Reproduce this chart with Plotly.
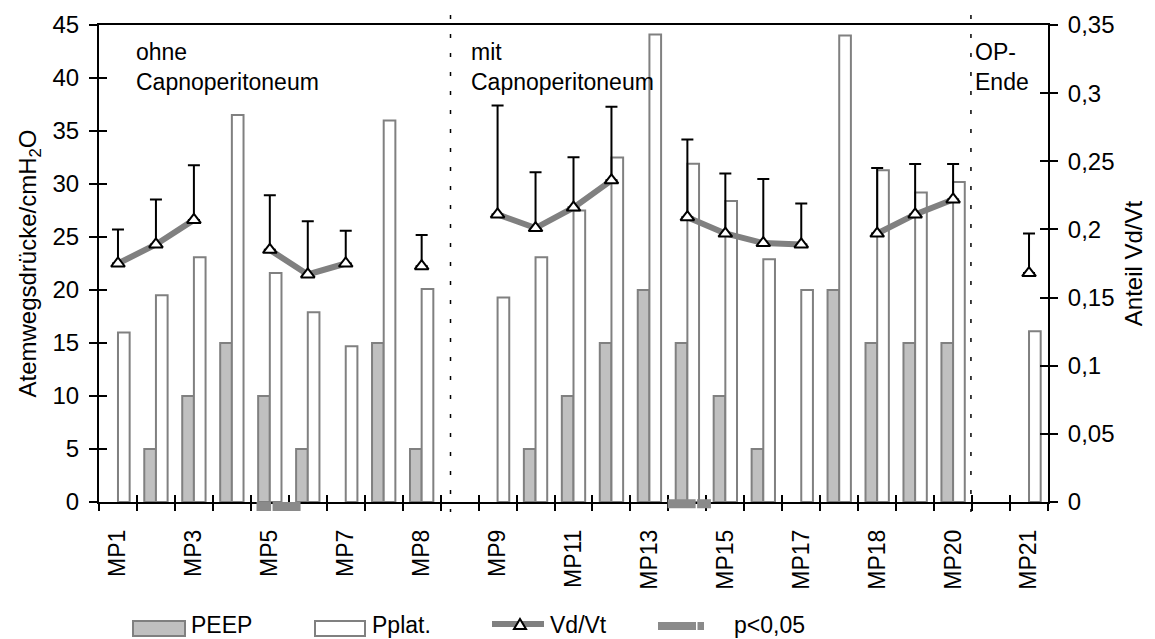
import plotly.graph_objects as go

# ---------------- data ----------------
slots = list(range(25))                      # measurement slots along the x axis
tick_positions = list(range(0, 25, 2))
tick_labels = ["MP1", "MP3", "MP5", "MP7", "MP8", "MP9", "MP11", "MP13",
               "MP15", "MP17", "MP18", "MP20", "MP21"]

peep = [0, 5, 10, 15, 10, 5, 0, 15, 5, None,
        0, 5, 10, 15, 20, 15, 10, 5, 0, 20, 15, 15, 15, None, 0]
pplat = [16.0, 19.5, 23.1, 36.5, 21.6, 17.9, 14.7, 36.0, 20.1, None,
         19.3, 23.1, 27.5, 32.5, 44.1, 31.9, 28.4, 22.9, 20.0, 44.0, 31.3, 29.2, 30.2, None, 16.1]
vdvt = [0.175, 0.189, 0.207, None, 0.185, 0.167, 0.175, None, 0.173, None,
        0.211, 0.201, 0.216, 0.236, None, 0.209, 0.197, 0.190, 0.189, None,
        0.197, 0.211, 0.222, None, 0.168]
vdvt_sd = [0.025, 0.033, 0.040, None, 0.040, 0.039, 0.024, None, 0.023, None,
           0.080, 0.041, 0.037, 0.054, None, 0.057, 0.044, 0.047, 0.030, None,
           0.048, 0.037, 0.026, None, 0.029]

phase_lines = [8.76, 22.47]
phase_labels = ["ohne<br>Capnoperitoneum", "mit<br>Capnoperitoneum", "OP-<br>Ende"]
phase_label_x = [0.42, 9.24, 22.53]
p_sig_ranges = [(4.81, 3.65), (14.48, 15.62)]
p_sig_level = [-0.0095, -0.0035]

FONT = "Liberation Sans, Arial, sans-serif"
W, H = 1155, 639
ML, MR, MT, MB = 99, 107, 25, 137
PW, PH = W - ML - MR, H - MT - MB


def px_x(p):
    return (p - ML) / PW


def px_y(p):
    return (H - MB - p) / PH


def outline(vals):
    # no outline for zero-height bars (avoids a stray stroke on the axis)
    return [2 if (v is not None and v != 0) else 0 for v in vals]


fig = go.Figure()

fig.add_trace(go.Bar(x=slots, y=peep, name="PEEP",
                     marker=dict(color="#c0c0c0",
                                 line=dict(color="#808080", width=outline(peep))),
                     showlegend=False))
fig.add_trace(go.Bar(x=slots, y=pplat, name="Pplat.",
                     marker=dict(color="white",
                                 line=dict(color="#808080", width=outline(pplat))),
                     showlegend=False))
fig.add_trace(go.Scatter(
    x=slots, y=vdvt, yaxis="y2", name="Vd/Vt", mode="lines+markers",
    connectgaps=False,
    line=dict(color="#808080", width=6),
    marker=dict(symbol="triangle-up", size=12, color="white",
                line=dict(color="black", width=2)),
    error_y=dict(type="data", symmetric=False,
                 array=[s if s is not None else 0 for s in vdvt_sd],
                 arrayminus=[0] * len(slots),
                 color="black", thickness=2, width=6),
    showlegend=False))

# invisible helper traces so the tick-only overlay axes are drawn
for xa, ya in [("x2", "y"), ("x3", "y"), ("x", "y3"), ("x", "y4")]:
    fig.add_trace(go.Scatter(x=[0], y=[None], xaxis=xa, yaxis=ya,
                             showlegend=False, hoverinfo="skip"))

xr = [-0.5, 24.5]
boundaries = [i - 0.5 for i in range(26)]

layout_shapes = []
for xv in phase_lines:
    layout_shapes.append(dict(type="line", xref="x", yref="paper",
                              x0=xv, x1=xv, y0=1.021, y1=-0.021,
                              line=dict(color="black", width=1.5, dash="4px,15px")))
for (a, b), lv in zip(p_sig_ranges, p_sig_level):
    layout_shapes.append(dict(type="line", xref="x", yref="paper",
                              x0=a, x1=b, y0=lv, y1=lv,
                              line=dict(color="#8a8a8a", width=9, dash="28px,1.5px")))

# ---- legend (drawn manually to mimic wide swatches) ----
ly = 625
leg_font = dict(family=FONT, size=23, color="black")
annotations = []
layout_shapes.append(dict(type="rect", xref="paper", yref="paper",
                          x0=px_x(133), x1=px_x(185), y0=px_y(621), y1=px_y(636),
                          fillcolor="#c0c0c0", line=dict(color="#808080", width=2)))
annotations.append(dict(text="PEEP", xref="paper", yref="paper", x=px_x(189), y=px_y(ly),
                        xanchor="left", yanchor="middle", showarrow=False, font=leg_font))
layout_shapes.append(dict(type="rect", xref="paper", yref="paper",
                          x0=px_x(315), x1=px_x(365), y0=px_y(621), y1=px_y(636),
                          fillcolor="white", line=dict(color="#808080", width=2)))
annotations.append(dict(text="Pplat.", xref="paper", yref="paper", x=px_x(370), y=px_y(ly),
                        xanchor="left", yanchor="middle", showarrow=False, font=leg_font))
layout_shapes.append(dict(type="line", xref="paper", yref="paper",
                          x0=px_x(492), x1=px_x(544), y0=px_y(624), y1=px_y(624),
                          line=dict(color="#808080", width=6)))
tri = "M{:.5f},{:.5f} L{:.5f},{:.5f} L{:.5f},{:.5f} Z".format(
    px_x(514), px_y(629), px_x(526), px_y(629), px_x(520), px_y(619))
layout_shapes.append(dict(type="path", xref="paper", yref="paper", path=tri,
                          fillcolor="white", line=dict(color="black", width=2)))
annotations.append(dict(text="Vd/Vt", xref="paper", yref="paper", x=px_x(548), y=px_y(ly),
                        xanchor="left", yanchor="middle", showarrow=False, font=leg_font))
layout_shapes.append(dict(type="line", xref="paper", yref="paper",
                          x0=px_x(658), x1=px_x(704), y0=px_y(626), y1=px_y(626),
                          line=dict(color="#8a8a8a", width=8, dash="38px,1.5px")))
annotations.append(dict(text="p<0,05", xref="paper", yref="paper", x=px_x(732), y=px_y(ly),
                        xanchor="left", yanchor="middle", showarrow=False, font=leg_font))

for txt, xv in zip(phase_labels, phase_label_x):
    annotations.append(dict(text=txt, x=xv, y=43.9, xref="x", yref="y",
                            xanchor="left", yanchor="top", align="left", showarrow=False,
                            font=dict(family=FONT, size=23, color="black")))

tick_font = dict(family=FONT, size=24, color="black")
common = dict(automargin=False, showgrid=False, zeroline=False)

fig.update_layout(
    template="none",
    width=W, height=H,
    margin=dict(l=ML, r=MR, t=MT, b=MB, pad=0, autoexpand=False),
    paper_bgcolor="white", plot_bgcolor="white",
    separators=",.",
    barmode="group", bargap=0.385, bargroupgap=0,
    font=dict(family=FONT, size=24, color="black"),
    showlegend=False,
    xaxis=dict(range=xr, tickmode="array", tickvals=boundaries, showticklabels=False,
               ticks="outside", ticklen=7, tickwidth=1.5, tickcolor="black",
               showline=True, linecolor="black", linewidth=2, mirror=True, **common),
    xaxis2=dict(range=xr, overlaying="x", anchor="y", side="bottom",
                tickmode="array", tickvals=boundaries, showticklabels=False,
                ticks="inside", ticklen=7, tickwidth=1.5, tickcolor="black",
                showline=False, **common),
    xaxis3=dict(range=xr, overlaying="x", anchor="y", side="bottom",
                tickmode="array", tickvals=tick_positions, ticktext=tick_labels,
                tickangle=-90, ticks="", ticklabelstandoff=22,
                tickfont=dict(family=FONT, size=23, color="black"),
                showline=False, **common),
    yaxis=dict(range=[0, 45], tickmode="linear", tick0=0, dtick=5,
               ticks="outside", ticklen=8, tickwidth=1.5, tickcolor="black",
               ticklabelstandoff=5, tickfont=tick_font,
               showline=True, linecolor="black", linewidth=2,
               title=dict(text="Atemwegsdrücke/cmH<sub>2</sub>O",
                          font=dict(family=FONT, size=24, color="black"), standoff=9),
               **common),
    yaxis3=dict(range=[0, 45], overlaying="y", anchor="x", side="left",
                tickmode="linear", tick0=0, dtick=5, showticklabels=False,
                ticks="inside", ticklen=8, tickwidth=1.5, tickcolor="black",
                showline=False, **common),
    yaxis2=dict(range=[0, 0.35], overlaying="y", anchor="x", side="right",
                tickmode="linear", tick0=0, dtick=0.05,
                ticks="outside", ticklen=8, tickwidth=1.5, tickcolor="black",
                ticklabelstandoff=5, tickfont=tick_font,
                showline=True, linecolor="black", linewidth=2,
                title=dict(text="Anteil Vd/Vt",
                           font=dict(family=FONT, size=24, color="black"), standoff=12),
                **common),
    yaxis4=dict(range=[0, 0.35], overlaying="y", anchor="x", side="right",
                tickmode="linear", tick0=0, dtick=0.05, showticklabels=False,
                ticks="inside", ticklen=8, tickwidth=1.5, tickcolor="black",
                showline=False, **common),
    shapes=layout_shapes,
    annotations=annotations,
)

fig.write_html("out.html",
               config={"displayModeBar": False},
               post_script="document.body.style.margin='0px';"
                           "document.body.style.overflow='hidden';")
